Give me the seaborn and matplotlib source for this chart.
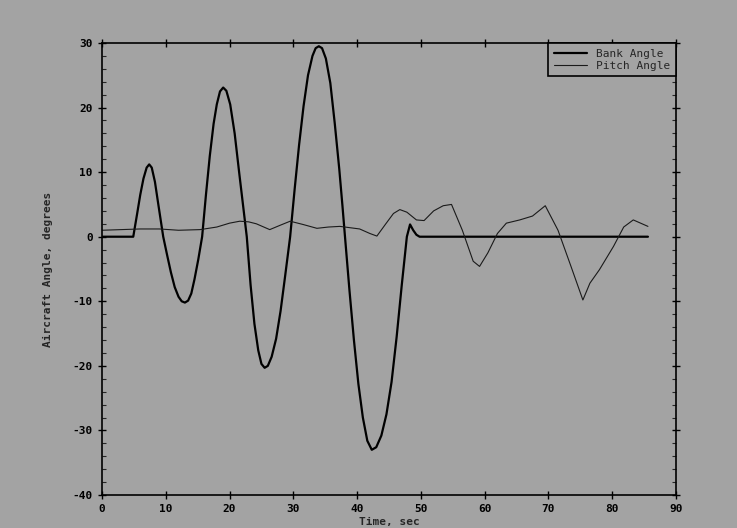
import matplotlib
matplotlib.use("Agg")
import matplotlib.pyplot as plt
from matplotlib.ticker import MultipleLocator
import seaborn as sns
import pandas as pd

# ---- data ----
bank_time = [0, 4.9, 5.5, 6.0, 6.5, 7.0, 7.4, 7.8, 8.3, 8.8, 9.2, 9.6,
             10.2, 10.8, 11.4, 12.0, 12.5, 13.0, 13.5, 14.0, 14.5, 15.1, 15.7,
             16.3, 16.9, 17.5, 18.0, 18.5, 19.0, 19.5, 20.1, 20.8, 21.5, 22.1, 22.7,
             23.3, 23.9, 24.5, 25.0, 25.5, 26.0, 26.6, 27.3, 28.0, 28.7, 29.5,
             30.2, 30.9, 31.6, 32.3, 33.0, 33.5, 34.0, 34.5, 35.1, 35.8, 36.5, 37.2, 37.7, 38.1,
             38.8, 39.5, 40.2, 40.9, 41.6, 42.3, 43.0, 43.8, 44.6, 45.4, 46.2, 47.0, 47.8,
             48.3, 48.8, 49.3, 49.8, 85.6]
bank_angle = [0, 0, 3.5, 6.5, 9.0, 10.7, 11.2, 10.7, 8.5, 5.2, 2.6, 0,
              -2.8, -5.5, -7.8, -9.3, -10.0, -10.2, -9.9, -8.8, -6.6, -3.5, 0,
              6.5, 12.5, 17.5, 20.5, 22.5, 23.1, 22.6, 20.5, 16.0, 10.0, 5.0, 0,
              -7.5, -13.5, -17.6, -19.7, -20.3, -20.0, -18.6, -15.8, -11.5, -6.2, 0,
              7.3, 14.2, 20.2, 25.0, 28.0, 29.2, 29.5, 29.2, 27.6, 23.8, 17.5, 10.5, 4.8, 0,
              -8.3, -16.0, -22.8, -28.0, -31.6, -33.0, -32.6, -30.8, -27.5, -22.5, -15.5, -7.5, 0,
              1.9, 1.0, 0.3, 0, 0]

pitch_time = [0, 3, 6, 9, 12, 15.4, 18, 20, 21.6, 23, 24.2, 26.3, 28, 29.5,
              31.5, 33.7, 35.5, 37.3, 40.4, 42, 43.1, 44.5, 45.7, 46.7, 47.8,
              49.3, 50.5, 52, 53.5, 54.8, 56.5, 58.2, 59.2, 60.5, 62, 63.4,
              65.5, 67.5, 69.5, 71.5, 73.5, 75.4, 76.5, 78, 80.2, 81.8, 83.3, 85.6]
pitch_angle = [1.0, 1.1, 1.2, 1.2, 1.0, 1.1, 1.5, 2.1, 2.4, 2.3, 2.0, 1.1, 1.8, 2.4,
               1.9, 1.3, 1.5, 1.6, 1.2, 0.5, 0.1, 2.0, 3.6, 4.2, 3.8,
               2.6, 2.5, 4.0, 4.8, 5.0, 1.0, -3.8, -4.6, -2.5, 0.5, 2.1,
               2.6, 3.2, 4.8, 1.0, -4.5, -9.8, -7.2, -5.1, -1.5, 1.5, 2.6, 1.6]

series_names = ["Bank Angle", "Pitch Angle"]
x_ticks = [0, 10, 20, 30, 40, 50, 60, 70, 80, 90]
y_ticks = [-40, -30, -20, -10, 0, 10, 20, 30]

sns.set_style("ticks")
plt.rcParams["font.family"] = ["DejaVu Sans Mono", "DejaVu Sans"]
plt.rcParams["axes.unicode_minus"] = False

bg = "#a3a3a3"
fig = plt.figure(figsize=(7.37, 5.28), dpi=100, facecolor=bg)
ax = fig.add_axes([102 / 737, 33 / 528, (676 - 102) / 737, (495 - 43) / 528])
ax.set_facecolor(bg)

bank_df = pd.DataFrame({"t": bank_time, "v": bank_angle})
pitch_df = pd.DataFrame({"t": pitch_time, "v": pitch_angle})

sns.lineplot(data=bank_df, x="t", y="v", ax=ax, color="black", linewidth=1.6,
             label=series_names[0], sort=False, estimator=None)
sns.lineplot(data=pitch_df, x="t", y="v", ax=ax, color="#1a1a1a", linewidth=0.8,
             label=series_names[1], sort=False, estimator=None)

ax.set_xlim(0, 90)
ax.set_ylim(-40, 30)
ax.set_xticks(x_ticks)
ax.set_yticks(y_ticks)
ax.yaxis.set_minor_locator(MultipleLocator(2))
ax.tick_params(axis="both", which="major", direction="inout", length=6, width=1,
               labelsize=8, colors="black", top=True, right=True)
ax.tick_params(axis="y", which="minor", direction="in", length=3, width=0.8, right=True)
for lab in ax.get_xticklabels() + ax.get_yticklabels():
    lab.set_fontweight("bold")
for s in ax.spines.values():
    s.set_linewidth(1.2)
    s.set_color("black")

ax.set_xlabel("Time, sec", fontsize=8, fontweight="bold", labelpad=2)
ax.set_ylabel("Aircraft Angle, degrees", fontsize=8, fontweight="bold", labelpad=14)

leg = ax.legend(loc="upper right", borderaxespad=0, frameon=True, fancybox=False,
                fontsize=8, handlelength=3, borderpad=0.5, labelspacing=0.2)
leg.get_frame().set_edgecolor("black")
leg.get_frame().set_facecolor(bg)
leg.get_frame().set_alpha(1)
leg.get_frame().set_linewidth(1.2)

fig.savefig("out.png", dpi=100, facecolor=bg)
